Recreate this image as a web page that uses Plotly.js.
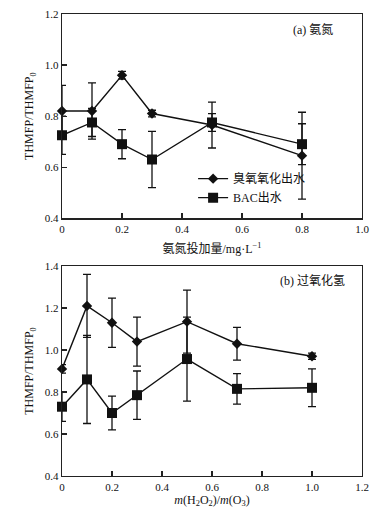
<!DOCTYPE html>
<html>
<head>
<meta charset="utf-8">
<script src="https://cdn.plot.ly/plotly-3.0.1.min.js"></script>
<style>html,body{margin:0;padding:0;background:#fff;}#chart{width:380px;height:516px;}</style>
</head>
<body>
<div id="chart"></div>
<script>
// Panel (a): ammonia dosage
const xA = [0, 0.1, 0.2, 0.3, 0.5, 0.8];
const ozoneA = [0.82, 0.82, 0.96, 0.81, 0.765, 0.645];
const ozoneAErr = [0.10, 0.11, 0.015, 0.013, 0.09, 0.17];
const bacA = [0.725, 0.775, 0.69, 0.63, 0.775, 0.69];
const bacAErr = [0.075, 0.055, 0.057, 0.11, 0.035, 0.08];

// Panel (b): hydrogen peroxide ratio
const xB = [0, 0.1, 0.2, 0.3, 0.5, 0.7, 1.0];
const ozoneB = [0.91, 1.21, 1.13, 1.04, 1.135, 1.03, 0.97];
const ozoneBErr = [0.02, 0.15, 0.117, 0.117, 0.15, 0.078, 0.015];
const bacB = [0.73, 0.86, 0.70, 0.785, 0.957, 0.815, 0.82];
const bacBErr = [0.07, 0.21, 0.08, 0.115, 0.2, 0.073, 0.09];

const seriesNames = ['臭氧氧化出水', 'BAC出水'];
const xTicksA = [0, 0.2, 0.4, 0.6, 0.8, 1.0];
const xTickTextA = ['0', '0.2', '0.4', '0.6', '0.8', '1.0'];
const xTicksB = [0, 0.2, 0.4, 0.6, 0.8, 1.0, 1.2];
const xTickTextB = ['0', '0.2', '0.4', '0.6', '0.8', '1.0', '1.2'];
const yTicksA = [0.4, 0.6, 0.8, 1.0, 1.2];
const yTicksB = [0.4, 0.6, 0.8, 1.0, 1.2, 1.4];

const FONT = 'Liberation Serif, Times New Roman, Noto Sans CJK SC, serif';
const ink = '#111';

function errBars(arr) {
  return {type: 'data', array: arr, visible: true, color: ink, thickness: 1.3, width: 4};
}

const traces = [
  {x: xA, y: ozoneA, error_y: errBars(ozoneAErr), name: seriesNames[0], xaxis: 'x', yaxis: 'y',
   mode: 'lines+markers', line: {color: ink, width: 1.4}, marker: {symbol: 'diamond', size: 8, color: ink}, cliponaxis: false},
  {x: xA, y: bacA, error_y: errBars(bacAErr), name: seriesNames[1], xaxis: 'x', yaxis: 'y',
   mode: 'lines+markers', line: {color: ink, width: 1.4}, marker: {symbol: 'square', size: 10, color: ink}, cliponaxis: false},
  {x: xB, y: ozoneB, error_y: errBars(ozoneBErr), name: seriesNames[0], xaxis: 'x2', yaxis: 'y2', showlegend: false,
   mode: 'lines+markers', line: {color: ink, width: 1.4}, marker: {symbol: 'diamond', size: 8, color: ink}, cliponaxis: false},
  {x: xB, y: bacB, error_y: errBars(bacBErr), name: seriesNames[1], xaxis: 'x2', yaxis: 'y2', showlegend: false,
   mode: 'lines+markers', line: {color: ink, width: 1.4}, marker: {symbol: 'square', size: 10, color: ink}, cliponaxis: false}
];

const axisCommon = {
  showline: true, linecolor: '#222', linewidth: 1.3, mirror: true,
  ticks: 'inside', ticklen: 5, tickwidth: 1.2, tickcolor: '#222',
  showgrid: false, zeroline: false,
  tickfont: {family: FONT, size: 11, color: ink}
};

const layout = {
  width: 380, height: 516,
  margin: {l: 62, r: 18, t: 14, b: 40},
  paper_bgcolor: '#fff', plot_bgcolor: '#fff',
  font: {family: FONT, color: ink},
  showlegend: true,
  legend: {x: 0.437, y: 0.675, xanchor: 'left', yanchor: 'top', bgcolor: 'rgba(0,0,0,0)',
           font: {family: FONT, size: 12, color: ink}, tracegroupgap: 0},
  xaxis: Object.assign({}, axisCommon, {domain: [0, 1], range: [0, 1.0], anchor: 'y',
    tickvals: xTicksA, ticktext: xTickTextA,
    title: {text: '氨氮投加量/mg·L<sup>−1</sup>', font: {family: FONT, size: 12, color: ink}, standoff: 11}}),
  yaxis: Object.assign({}, axisCommon, {domain: [0.558, 1], range: [0.4, 1.2], anchor: 'x',
    tickvals: yTicksA, tickformat: '.1f',
    title: {text: 'THMFP/THMFP<sub>0</sub>', font: {family: FONT, size: 12, color: ink}, standoff: 8}}),
  xaxis2: Object.assign({}, axisCommon, {domain: [0, 1], range: [0, 1.2], anchor: 'y2',
    tickvals: xTicksB, ticktext: xTickTextB,
    title: {text: '<i>m</i>(H<sub>2</sub>O<sub>2</sub>)/<i>m</i>(O<sub>3</sub>)', font: {family: FONT, size: 12, color: ink}, standoff: 3}}),
  yaxis2: Object.assign({}, axisCommon, {domain: [0, 0.4545], range: [0.4, 1.4], anchor: 'x2',
    tickvals: yTicksB, tickformat: '.1f',
    title: {text: 'THMFP/THMFP<sub>0</sub>', font: {family: FONT, size: 12, color: ink}, standoff: 8}}),
  annotations: [
    {text: '(a) 氨氮', xref: 'x', yref: 'y', x: 0.91, y: 1.14, xanchor: 'right', yanchor: 'middle',
     showarrow: false, font: {family: FONT, size: 12, color: ink}},
    {text: '(b) 过氧化氢', xref: 'x2', yref: 'y2', x: 1.14, y: 1.33, xanchor: 'right', yanchor: 'middle',
     showarrow: false, font: {family: FONT, size: 12, color: ink}}
  ]
};

Plotly.newPlot('chart', traces, layout, {staticPlot: true, displayModeBar: false});
</script>
</body>
</html>
